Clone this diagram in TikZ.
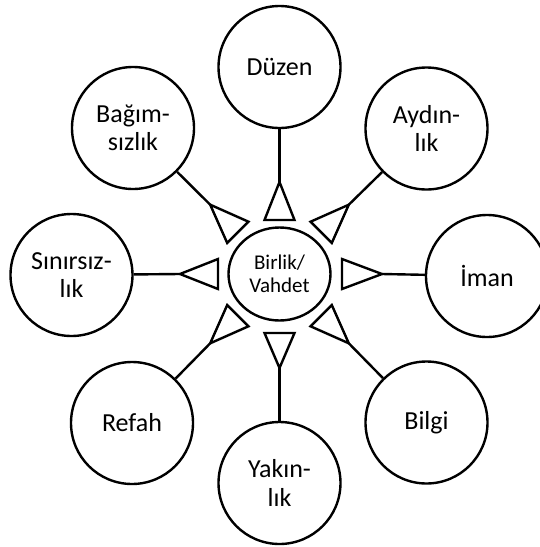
\documentclass[tikz,border=0pt]{standalone}
\usepackage{fontspec}
\setmainfont{Carlito}
\usetikzlibrary{shapes.geometric,calc}
\begin{document}
\begin{tikzpicture}[x=1pt,y=-1pt,line width=2.4pt,
  outer/.style={circle,draw,minimum size=122pt,inner sep=0pt,align=center,font=\fontsize{26}{28.5}\selectfont},
  hub/.style={ellipse,draw,minimum width=102pt,minimum height=93pt,inner sep=0pt,align=center,font=\fontsize{21}{23}\selectfont},
  spike/.style={draw,line join=miter},
  link/.style={draw}]
\useasboundingbox (0,0) rectangle (540,547);
\node[hub] (c) at (279.5,274) {Birlik/\\Vahdet};
\node[outer] (bagim) at (133,128) {Bağım-\\sızlık};
\node[outer] (duzen) at (279.5,67) {Düzen};
\node[outer] (aydin) at (426.5,128.5) {Aydın-\\lık};
\node[outer] (sinir) at (71.5,275) {Sınırsız-\\lık};
\node[outer] (iman) at (487,276) {İman};
\node[outer] (refah) at (132,423) {Refah};
\node[outer] (yakin) at (279.5,483) {Yakın-\\lık};
\node[outer] (bilgi) at (426.5,422.5) {Bilgi};
\foreach \a/\db/\da/\n in {-90/54/92/duzen, -45/59/98/aydin, 0/62.5/102.5/iman, 45/59/98/bilgi, 90/59/94/yakin, 135/59/98/refah, 180/61.5/99.5/sinir, 225/59/98/bagim} {
  \coordinate (tip\n) at ($(c)+(\a:\da)$);
  \coordinate (bl\n) at ($(c)+(\a:\db)+(\a+90:15)$);
  \coordinate (br\n) at ($(c)+(\a:\db)+(\a-90:15)$);
  \draw[spike] (tip\n) -- (bl\n) -- (br\n) -- cycle;
  \draw[link] (tip\n) -- (\n);
}
\end{tikzpicture}
\end{document}
